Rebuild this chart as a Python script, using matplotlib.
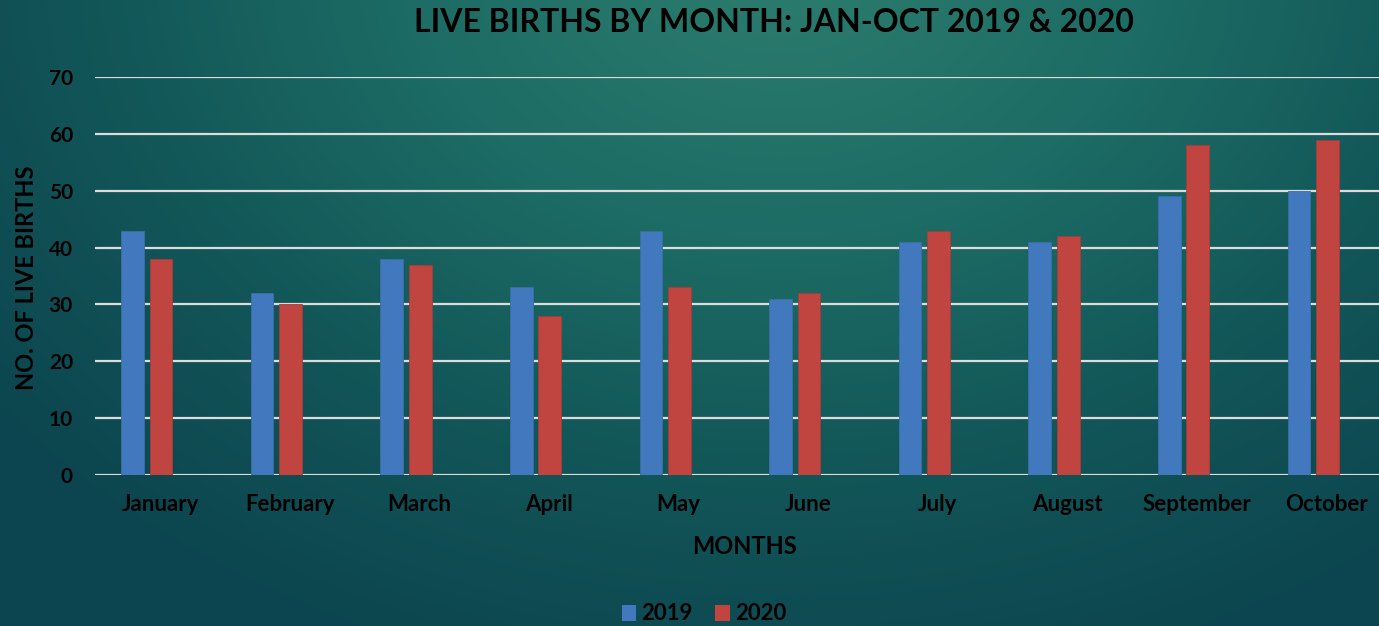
import numpy as np
import matplotlib
matplotlib.use("Agg")
import matplotlib.pyplot as plt
from matplotlib.colors import LinearSegmentedColormap
from matplotlib.patches import Patch

months = ["January", "February", "March", "April", "May", "June",
          "July", "August", "September", "October"]
births_2019 = [43, 32, 38, 33, 43, 31, 41, 41, 49, 50]
births_2020 = [38, 30, 37, 28, 33, 32, 43, 42, 58, 59]
series_labels = ["2019", "2020"]
yticks = [0, 10, 20, 30, 40, 50, 60, 70]

plt.rcParams['font.family'] = ['Lato', 'DejaVu Sans']
plt.rcParams['font.weight'] = 'bold'

W, H = 1379, 626
fig = plt.figure(figsize=(W / 100, H / 100), dpi=100)

# background gradient
bg = fig.add_axes([0, 0, 1, 1], zorder=-10)
yy, xx = np.mgrid[0:H:2, 0:W:2]
d = np.sqrt(((xx - 780) / 1000.0) ** 2 + ((yy + 40) / 750.0) ** 2)
d = np.clip(d, 0, 1)
cmap = LinearSegmentedColormap.from_list("bg", ["#2a7b6d", "#1d6c65", "#125658", "#0c454f"])
bg.imshow(d, cmap=cmap, aspect='auto', extent=[0, W, H, 0], vmin=0.05, vmax=1)
bg.axis('off')

ax = fig.add_axes([95.2 / W, 1 - 475 / H, 1296 / W, 398 / H])
ax.set_facecolor('none')
x = np.arange(len(months))
bw = 0.175
ax.bar(x - 0.212, births_2019, width=bw, color='#4279be', edgecolor='#3b6ea8', linewidth=0.6, zorder=3, label=series_labels[0])
ax.bar(x + 0.008, births_2020, width=bw, color='#c0443f', edgecolor='#a83c38', linewidth=0.6, zorder=3, label=series_labels[1])

ax.set_xlim(-0.5, len(months) - 0.5)
ax.set_ylim(0, 70)
ax.set_yticks(yticks)
ax.set_yticklabels([str(v) for v in yticks], fontsize=15, fontweight='bold')
ax.set_xticks(x)
ax.set_xticklabels(months, fontsize=16, fontweight='bold')
ax.tick_params(axis='both', length=0, colors='black')
ax.tick_params(axis='y', pad=16)
ax.tick_params(axis='x', pad=14)
ax.grid(axis='y', color='#dcdcdc', linewidth=1.6, zorder=1)
for s in ax.spines.values():
    s.set_visible(False)

ax.set_ylabel("NO. OF LIVE BIRTHS", fontsize=17, fontweight='bold')
ax.set_xlabel("MONTHS", fontsize=17, fontweight='bold')
ax.xaxis.set_label_coords((745 - 95.2) / 1296, -(535 - 475) / 398)
ax.yaxis.set_label_coords(-(95.2 - 38) / 1296, (475 - 278) / 398)

fig.text(774 / W, 1 - 22 / H, "LIVE BIRTHS BY MONTH: JAN-OCT 2019 & 2020",
         ha='center', va='center', fontsize=23, fontweight='bold', color='black')

handles = [Patch(facecolor='#4279be'), Patch(facecolor='#c0443f')]
fig.legend(handles, series_labels, loc='center', bbox_to_anchor=(704 / W, 1 - 614 / H),
           ncol=2, frameon=False, prop={'weight': 'bold', 'size': 16},
           handlelength=0.65, handleheight=0.7, handletextpad=0.25, columnspacing=1.0)

fig.savefig("out.png", dpi=100)
